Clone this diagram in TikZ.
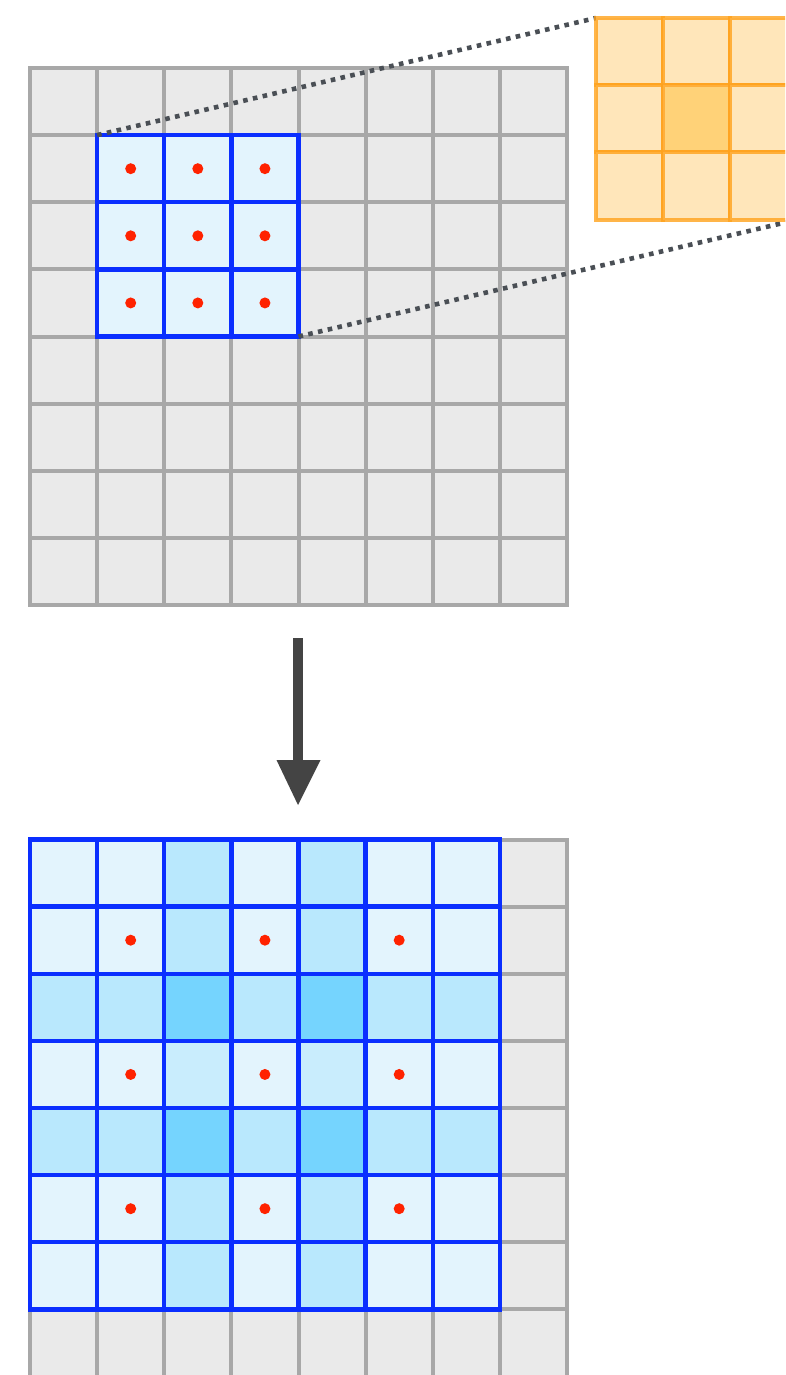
\documentclass[tikz,border=0pt]{standalone}
\usetikzlibrary{calc}
\definecolor{cellgray}{HTML}{EAEAEA}
\definecolor{linegray}{HTML}{A8A8A8}
\definecolor{winblue}{HTML}{0A2EFF}
\definecolor{lblue}{HTML}{E3F4FD}
\definecolor{mblue}{HTML}{B9E8FD}
\definecolor{pblue}{HTML}{C9EDFD}
\definecolor{dblue}{HTML}{75D4FE}
\definecolor{dotred}{HTML}{FF2200}
\definecolor{kfill}{HTML}{FFE6BA}
\definecolor{kcenter}{HTML}{FFD278}
\definecolor{kline}{HTML}{FFA21C}
\definecolor{dotline}{HTML}{4A4F55}
\definecolor{arrowgray}{HTML}{444444}
\tikzset{
  graycell/.style={fill=cellgray, draw=linegray, line width=4pt},
  bluecell/.style={draw=winblue, line width=4.4pt},
  kcell/.style={fill=kfill, draw=kline, draw opacity=0.8, line width=4pt},
  reddot/.style={fill=dotred, draw=none},
  dotted line/.style={draw=dotline, line width=4.6pt, dash pattern=on 4.6pt off 5.4pt},
}
\begin{document}
\begin{tikzpicture}[x=1pt, y=-1pt]
\useasboundingbox (0,0) rectangle (785,1375);
\clip (0,0) rectangle (785,1375);
\def\s{67.125}
\def\by{839.5}
% ---------- top input grid ----------
\foreach \i in {0,...,7}{\foreach \j in {0,...,7}{
  \draw[graycell] ({30+\i*\s},{68+\j*\s}) rectangle ++(\s,\s);
}}
\foreach \i in {1,2,3}{\foreach \j in {1,2,3}{
  \fill[lblue] ({30+\i*\s},{68+\j*\s}) rectangle ++(\s,\s);
}}
\foreach \i in {1,2,3}{\foreach \j in {1,2,3}{
  \draw[bluecell] ({30+\i*\s},{68+\j*\s}) rectangle ++(\s,\s);
  \fill[reddot] ({30+(\i+0.5)*\s},{68+(\j+0.5)*\s}) circle (5.5);
}}
\coordinate (wtl) at ({30+\s},{68+\s});
\coordinate (wbr) at ({30+4*\s},{68+4*\s});
% ---------- kernel ----------
\def\k{67.2}
\coordinate (ktl) at (596,18);
\coordinate (kbr) at ({596+3*\k},{18+3*\k});
\draw[dotted line] (wtl) -- (ktl);
\draw[dotted line] (wbr) -- (kbr);
\foreach \i in {0,1,2}{\foreach \j in {0,1,2}{
  \draw[kcell] ({596+\i*\k},{18+\j*\k}) rectangle ++(\k,\k);
}}
\fill[kcenter] ({596+\k+2},{18+\k+2}) rectangle ({596+2*\k-2},{18+2*\k-2});
% ---------- arrow ----------
\coordinate (astart) at (298,638);
\coordinate (ashaft) at (298,762);
\coordinate (atip) at (298,805);
\draw[arrowgray, line width=10pt] (astart) -- (ashaft);
\fill[arrowgray] (276.5,760) -- (320.5,760) -- (atip) -- cycle;
% ---------- bottom output grid ----------
\foreach \i in {0,...,7}{\foreach \j in {0,...,7}{
  \draw[graycell] ({30+\i*\s},{\by+\j*\s}) rectangle ++(\s,\s);
}}
\foreach \i in {0,...,6}{\foreach \j in {0,...,6}{
  \pgfmathsetmacro{\ci}{(\i==2||\i==4)?1:0}
  \pgfmathsetmacro{\cj}{(\j==2||\j==4)?1:0}
  \pgfmathsetmacro{\lvl}{\ci+\cj}
  \ifdim\lvl pt=2pt
    \fill[dblue] ({30+\i*\s},{\by+\j*\s}) rectangle ++(\s,\s);
  \else\ifdim\lvl pt=1pt
    \ifnum\j=3
      \fill[pblue] ({30+\i*\s},{\by+\j*\s}) rectangle ++(\s,\s);
    \else
      \fill[mblue] ({30+\i*\s},{\by+\j*\s}) rectangle ++(\s,\s);
    \fi
  \else
    \fill[lblue] ({30+\i*\s},{\by+\j*\s}) rectangle ++(\s,\s);
  \fi\fi
}}
\foreach \i in {0,...,6}{\foreach \j in {0,...,6}{
  \draw[bluecell] ({30+\i*\s},{\by+\j*\s}) rectangle ++(\s,\s);
}}
\foreach \i in {1,3,5}{\foreach \j in {1,3,5}{
  \fill[reddot] ({30+(\i+0.5)*\s},{\by+(\j+0.5)*\s}) circle (5.5);
}}
\end{tikzpicture}
\end{document}
